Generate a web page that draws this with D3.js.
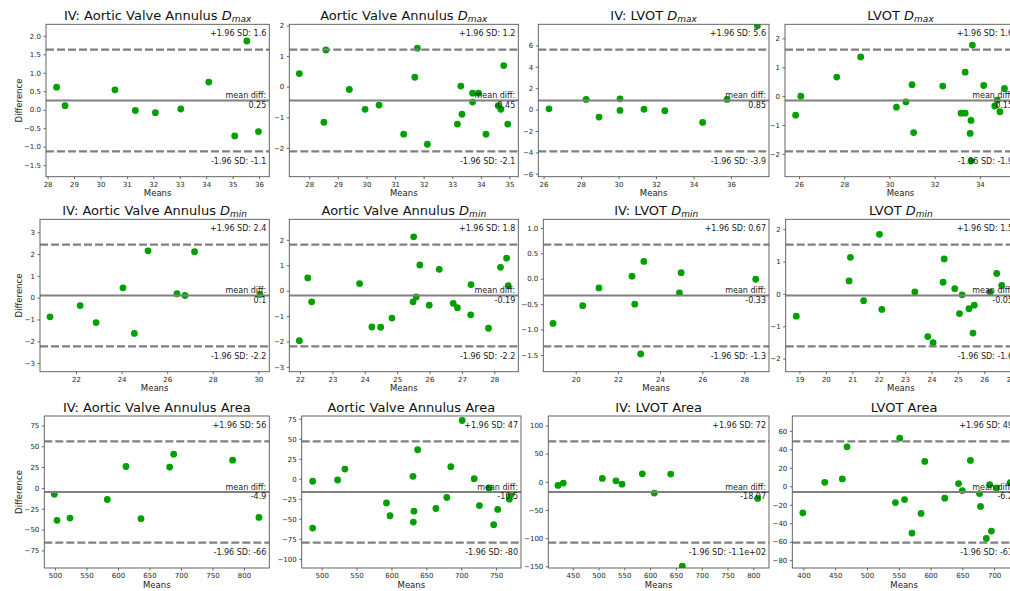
<!DOCTYPE html>
<html>
<head><meta charset="utf-8"></head>
<body style="margin: 0; background: #fff">
  <script src="https://d3js.org/d3.v7.min.js"></script>

  <script>
    // panel titles: [plain text, subscript of D or null]
    const titles = [
      ["IV: Aortic Valve Annulus ", "max"], ["Aortic Valve Annulus ", "max"], ["IV: LVOT ", "max"], ["LVOT ", "max"],
      ["IV: Aortic Valve Annulus ", "min"], ["Aortic Valve Annulus ", "min"], ["IV: LVOT ", "min"], ["LVOT ", "min"],
      ["IV: Aortic Valve Annulus Area", null], ["Aortic Valve Annulus Area", null], ["IV: LVOT Area", null], ["LVOT Area", null]
    ];

    // means of the two measurements (x) and their differences (y)
    const means = [
      [28.34, 28.66, 30.55, 31.32, 32.08, 33.04, 34.10, 35.08, 35.54, 35.98],
      [27.65, 28.58, 28.51, 29.40, 29.95, 30.44, 31.30, 31.69, 31.78, 32.13, 33.18, 33.30, 33.34, 33.71, 33.71, 33.92, 34.18, 34.61, 34.70, 34.80, 34.94],
      [26.29, 28.27, 28.96, 30.08, 30.08, 31.36, 32.47, 34.49, 35.79, 37.41],
      [25.85, 26.08, 27.67, 28.73, 30.31, 30.73, 31.00, 31.07, 32.36, 33.17, 33.35, 33.35, 33.67, 33.61, 33.57, 33.61, 34.17, 34.66, 34.77, 34.89, 35.09],
      [20.86, 22.18, 22.88, 24.06, 24.56, 25.16, 26.43, 26.78, 27.20, 30.07],
      [21.98, 22.24, 22.36, 23.84, 24.22, 24.49, 24.84, 25.49, 25.51, 25.59, 25.70, 25.99, 26.30, 26.73, 26.86, 27.27, 27.28, 27.82, 28.19, 28.38, 28.43],
      [18.92, 20.33, 21.10, 22.67, 22.80, 23.23, 23.08, 24.92, 25.00, 28.54],
      [18.88, 20.88, 20.93, 21.43, 22.03, 22.12, 23.37, 23.86, 24.06, 24.44, 24.48, 24.88, 25.06, 25.16, 25.42, 25.62, 25.57, 26.22, 26.47, 26.66],
      [498.9, 503.2, 523.8, 583.0, 612.7, 636.5, 682.0, 688.4, 782.0, 823.8],
      [487.1, 487.1, 522.9, 533.3, 592.9, 598.0, 630.9, 632.3, 631.4, 637.6, 663.7, 679.4, 685.1, 701.4, 718.6, 726.1, 740.0, 746.6, 752.3, 771.4, 769.0],
      [421.5, 431.8, 507.4, 533.9, 545.5, 584.9, 608.1, 639.9, 662.4, 808.5],
      [399.0, 433.5, 461.2, 468.6, 544.7, 551.5, 559.0, 570.7, 585.0, 590.9, 622.3, 644.0, 650.0, 662.7, 677.0, 678.6, 687.7, 693.0, 695.7, 703.7, 725.4]
    ];
    const diffs = [
      [0.61, 0.11, 0.54, -0.02, -0.08, 0.02, 0.75, -0.71, 1.86, -0.59],
      [0.43, 1.20, -1.16, -0.09, -0.74, -0.60, -1.55, 0.31, 1.26, -1.88, -1.22, 0.02, -0.90, -0.21, -0.50, -0.21, -1.55, -0.62, -0.74, 0.69, -1.22],
      [0.07, 0.95, -0.70, 1.01, -0.08, 0.03, -0.11, -1.20, 0.95, 7.84],
      [-0.66, 0.00, 0.66, 1.36, -0.38, -0.20, 0.40, -1.26, 0.35, -0.59, -0.59, 0.83, 1.77, -0.84, -1.29, -2.25, 0.37, -0.34, -0.14, -0.54, 0.27],
      [-0.88, -0.36, -1.14, 0.45, -1.64, 2.15, 0.18, 0.10, 2.11, 0.15],
      [-1.97, 0.50, -0.44, 0.28, -1.43, -1.44, -1.08, -0.44, 2.12, -0.25, 1.01, -0.57, 0.84, -0.50, -0.67, -0.95, 0.24, -1.48, 0.92, 1.28, 0.20],
      [-0.88, -0.53, -0.18, 0.05, -0.50, 0.34, -1.48, -0.28, 0.12, -0.01],
      [-0.69, 0.40, 1.13, -0.21, 1.84, -0.48, 0.06, -1.32, -1.51, 0.36, 1.08, 0.16, -0.61, -0.03, -0.46, -0.35, -1.21, 0.05, 0.63, 0.26],
      [-7.6, -38.9, -36.2, -13.9, 25.7, -36.9, 25.0, 40.5, 33.3, -35.4],
      [-3.1, -61.6, -1.5, 12.2, -30.1, -46.2, 3.1, -40.4, -54.1, 36.3, -37.1, -23.4, 15.2, 72.8, 0.2, -33.4, -11.4, -57.4, -38.3, -19.7, -25.5],
      [-6.4, -2.3, 6.0, 1.8, -4.1, 14.2, -20.0, 13.7, -150.0, -29.5],
      [-28.7, 4.3, 7.9, 42.7, -17.6, 52.0, -14.4, -50.6, -29.4, 26.9, -12.9, 2.9, -4.7, 28.0, -7.9, -21.9, -56.4, 1.8, -48.5, -1.8, 4.0]
    ];

    // mean difference and 1.96 * SD of the differences
    const meanDiff = [0.25, -0.45, 0.85, -0.15, 0.1, -0.19, -0.33, -0.05, -4.9, -16.5, -18.07, -6.2];
    const limit = [1.375, 1.66, 4.75, 1.76, 2.33, 2.0, 1.0, 1.57, 60.8, 63.3, 90.0, 54.8];

    const meanLabels = ["0.25", "-0.45", "0.85", "-0.15", "0.1", "-0.19", "-0.33", "-0.05", "-4.9", "-16.5", "-18.07", "-6.2"];
    const upperLabels = ["1.6", "1.2", "5.6", "1.6", "2.4", "1.8", "0.67", "1.5", "56", "47", "72", "49"];
    const lowerLabels = ["-1.1", "-2.1", "-3.9", "-1.9", "-2.2", "-2.2", "-1.3", "-1.6", "-66", "-80", "-1.1e+02", "-61"];

    const xLims = [
      [27.94, 36.39], [27.30, 35.31], [25.72, 38.03], [25.38, 35.60],
      [20.42, 30.48], [21.67, 28.74], [18.46, 29.17], [18.48, 27.20],
      [483.0, 840.2], [471.4, 785.7], [402.7, 830.4], [382.5, 734.4]
    ];
    const xTicks = [
      [28, 29, 30, 31, 32, 33, 34, 35, 36], [28, 29, 30, 31, 32, 33, 34, 35], [26, 28, 30, 32, 34, 36], [26, 28, 30, 32, 34],
      [22, 24, 26, 28, 30], [22, 23, 24, 25, 26, 27, 28], [20, 22, 24, 26, 28], [19, 20, 21, 22, 23, 24, 25, 26, 27],
      [500, 550, 600, 650, 700, 750, 800], [500, 550, 600, 650, 700, 750], [450, 500, 550, 600, 650, 700, 750, 800], [400, 450, 500, 550, 600, 650, 700]
    ];
    const yTicks = [
      [-1.5, -1, -0.5, 0, 0.5, 1, 1.5, 2], [-2, -1, 0, 1, 2], [-6, -4, -2, 0, 2, 4, 6], [-2, -1, 0, 1, 2],
      [-3, -2, -1, 0, 1, 2, 3], [-3, -2, -1, 0, 1, 2], [-1.5, -1, -0.5, 0, 0.5, 1], [-2, -1, 0, 1, 2],
      [-75, -50, -25, 0, 25, 50, 75], [-100, -75, -50, -25, 0, 25, 50, 75], [-150, -100, -50, 0, 50, 100], [-80, -60, -40, -20, 0, 20, 40, 60]
    ];

    // axes boxes: left, top, right, bottom (px)
    const boxes = [
      [46, 24.3, 269.3, 176.7], [289.3, 24.3, 518.3, 176.7], [538.3, 24.3, 769, 176.7], [785, 24.3, 1016, 176.7],
      [40, 219.3, 269.3, 371.7], [289.3, 219.3, 518.3, 371.7], [543.3, 219.3, 769, 371.7], [785.7, 219.3, 1016, 371.7],
      [44.3, 416, 269.3, 568], [301.7, 416, 521, 568], [548.3, 416, 769, 568], [792.3, 416, 1016, 568]
    ];

    const FONT = "'DejaVu Sans', sans-serif";
    const GRAY = "#808080";

    const svg = d3.select("body").append("svg")
      .attr("width", 1010)
      .attr("height", 591)
      .style("font-family", FONT);

    titles.forEach((title, i) => {
      const [left, top, right, bottom] = boxes[i];
      const half = 1.5 * limit[i];
      const upper = meanDiff[i] + limit[i];
      const lower = meanDiff[i] - limit[i];

      const x = d3.scaleLinear().domain(xLims[i]).range([left, right]);
      const y = d3.scaleLinear().domain([meanDiff[i] - half, meanDiff[i] + half]).range([bottom, top]);

      const g = svg.append("g");

      g.append("clipPath").attr("id", "clip" + i)
        .append("rect")
        .attr("x", left).attr("y", top)
        .attr("width", right - left).attr("height", bottom - top);

      const plot = g.append("g").attr("clip-path", "url(#clip" + i + ")");

      plot.selectAll("circle")
        .data(means[i].map((m, k) => [m, diffs[i][k]]))
        .enter()
        .append("circle")
        .attr("cx", (d) => x(d[0]))
        .attr("cy", (d) => y(d[1]))
        .attr("r", 3.4)
        .style("fill", "#00a000");

      plot.append("line")
        .attr("x1", left).attr("x2", right)
        .attr("y1", y(meanDiff[i])).attr("y2", y(meanDiff[i]))
        .style("stroke", GRAY).style("stroke-width", 2);

      [upper, lower].forEach((v) => {
        plot.append("line")
          .attr("x1", left).attr("x2", right)
          .attr("y1", y(v)).attr("y2", y(v))
          .style("stroke", GRAY).style("stroke-width", 2.2)
          .style("stroke-dasharray", "8,3");
      });

      // axes
      const inX = xTicks[i].filter((t) => t >= xLims[i][0] && t <= xLims[i][1]);
      const yFmt = yTicks[i].some((t) => !Number.isInteger(t)) ? d3.format(".1f") : d3.format("d");

      const xAxis = g.append("g")
        .attr("transform", "translate(0," + bottom + ")")
        .call(d3.axisBottom(x).tickValues(inX).tickFormat(d3.format("d")).tickSize(2.5).tickPadding(2.5));
      const yAxis = g.append("g")
        .attr("transform", "translate(" + left + ",0)")
        .call(d3.axisLeft(y).tickValues(yTicks[i]).tickFormat(yFmt).tickSize(2.5).tickPadding(2.5));

      [xAxis, yAxis].forEach((a) => {
        a.select(".domain").remove();
        a.selectAll("line").style("stroke", "#444").style("stroke-width", 0.8);
        a.selectAll("text").style("font-family", FONT).style("font-size", "7px").style("fill", "#262626");
      });

      g.append("rect")
        .attr("x", left).attr("y", top)
        .attr("width", right - left).attr("height", bottom - top)
        .style("fill", "none").style("stroke", "#555").style("stroke-width", 0.9);

      // annotations
      const tx = right - 3;
      const note = (yy, txt) => g.append("text")
        .attr("x", tx).attr("y", yy)
        .attr("text-anchor", "end")
        .style("font-size", "8px").style("fill", "#1a1a1a")
        .text(txt);

      note(y(upper) - 13.7, "+1.96 SD: " + upperLabels[i]);
      note(y(lower) + 12.7, "-1.96 SD: " + lowerLabels[i]);
      note(y(meanDiff[i]) - 2.2, "mean diff:");
      note(y(meanDiff[i]) + 7.4, meanLabels[i]);

      // title
      const t = g.append("text")
        .attr("x", (left + right) / 2).attr("y", top - 4.2)
        .attr("text-anchor", "middle")
        .style("font-size", "13px").style("fill", "#111");
      t.append("tspan").text(title[0]);
      if (title[1]) {
        t.append("tspan").style("font-style", "italic").text("D");
        t.append("tspan").style("font-style", "italic").style("font-size", "9px").attr("dy", 2).text(title[1]);
      }

      // axis labels
      g.append("text")
        .attr("x", (left + right) / 2).attr("y", bottom + 19.5)
        .attr("text-anchor", "middle")
        .style("font-size", "8.5px").style("fill", "#1a1a1a")
        .text("Means");

      if (i % 4 === 0) {
        g.append("text")
          .attr("transform", "translate(21.5," + ((top + bottom) / 2) + ") rotate(-90)")
          .attr("text-anchor", "middle")
          .style("font-size", "8.5px").style("fill", "#1a1a1a")
          .text("Difference");
      }
    });
  </script>
</body>
</html>
